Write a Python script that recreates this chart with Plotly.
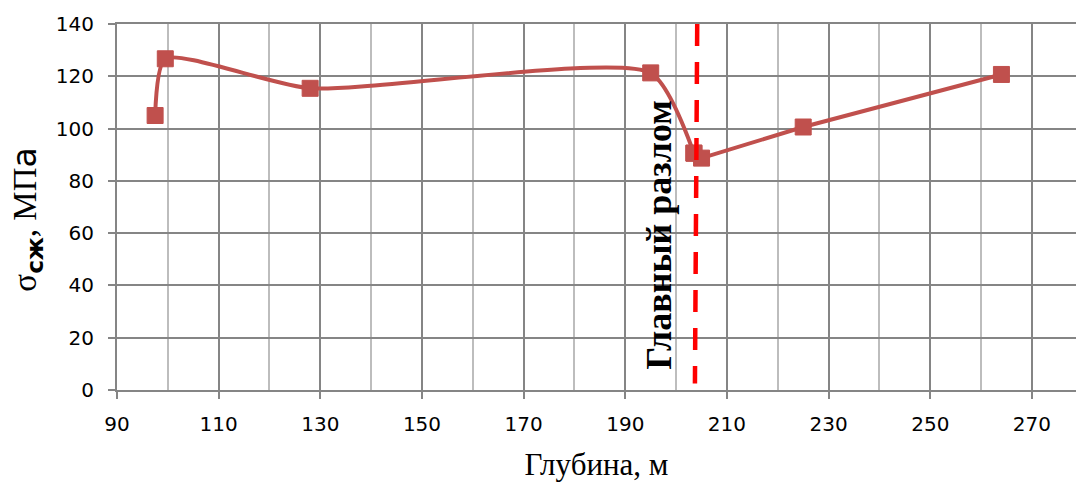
import plotly.graph_objects as go

# Data
depth = [97.5, 99.5, 128.0, 195.0, 203.5, 205.0, 225.0, 264.0]
strength = [105.0, 126.7, 115.4, 121.3, 90.6, 88.7, 100.6, 120.7]
fault_depth = [204.15, 203.7]
fault_y = [140, 2.5]
x_ticks = list(range(90, 271, 20))
y_ticks = list(range(0, 141, 20))
fault_label = "Главный разлом"
x_title = "Глубина, м"
y_title = ("σ<sub><b><span style='font-family:DejaVu Sans'>сж</span></b></sub>, "
           "МП<span style='font-family:DejaVu Sans'>а</span>")

series_color = "#C0504D"
major_grid = "#858585"
minor_grid = "#BDBDBD"

fig = go.Figure()
# smoothed part above the fault, straight part beyond it
fig.add_trace(go.Scatter(
    x=depth[:5], y=strength[:5], mode="lines+markers",
    line=dict(color=series_color, width=4, shape="spline", smoothing=0.6),
    marker=dict(symbol="square", size=16, color=series_color,
                line=dict(color=series_color, width=1)),
    showlegend=False, hoverinfo="x+y",
))
fig.add_trace(go.Scatter(
    x=depth[4:], y=strength[4:], mode="lines+markers",
    line=dict(color=series_color, width=4),
    marker=dict(symbol="square", size=16, color=series_color,
                line=dict(color=series_color, width=1)),
    showlegend=False, hoverinfo="x+y",
))

fig.add_shape(type="line", xref="x", yref="y",
              x0=fault_depth[0], y0=fault_y[0], x1=fault_depth[1], y1=fault_y[1],
              line=dict(color="#FF0000", width=4.5, dash="22px,16px"), layer="above")

fig.add_annotation(x=196.6, y=59.3, xref="x", yref="y", text="<b>" + fault_label + "</b>",
                   textangle=-90, showarrow=False,
                   font=dict(family="Liberation Serif", size=36, color="#000000"))

# y-axis title placed like the reference (slightly below the plot centre)
fig.add_annotation(x=-0.094, y=0.465, xref="paper", yref="paper", text=y_title,
                   textangle=-90, showarrow=False, xanchor="center", yanchor="middle",
                   font=dict(family="Liberation Serif", size=33, color="#000000"))

fig.update_layout(
    width=1076, height=482,
    margin=dict(l=117, r=0, t=24, b=92),
    paper_bgcolor="white", plot_bgcolor="white",
    font=dict(family="DejaVu Sans", size=19, color="#000000"),
)

fig.update_xaxes(
    range=[90, 278.67], tickmode="array", tickvals=x_ticks,
    ticktext=[str(v) for v in x_ticks],
    showgrid=True, gridcolor=major_grid, gridwidth=2,
    minor=dict(dtick=10, tick0=90, showgrid=True, gridcolor=minor_grid, gridwidth=2, ticks=""),
    ticks="outside", ticklen=7, tickwidth=2, tickcolor=major_grid,
    showline=True, linecolor=major_grid, linewidth=2, mirror=True,
    zeroline=False, ticklabelstandoff=8,
    tickfont=dict(family="DejaVu Sans", size=20, color="#000000"),
    title=dict(text=x_title, font=dict(family="Liberation Serif", size=31, color="#000000"), standoff=20),
)
fig.update_yaxes(
    range=[0, 140], tickmode="array", tickvals=y_ticks,
    ticktext=[str(v) for v in y_ticks],
    showgrid=True, gridcolor=major_grid, gridwidth=2,
    ticks="outside", ticklen=7, tickwidth=2, tickcolor=major_grid,
    showline=True, linecolor=major_grid, linewidth=2,
    zeroline=False, ticklabelstandoff=10,
    tickfont=dict(family="DejaVu Sans", size=20, color="#000000"),
)

fig.write_html("out.html")
